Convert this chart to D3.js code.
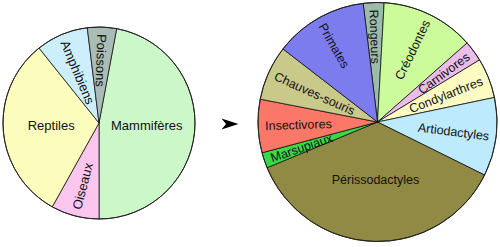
<!DOCTYPE html>
<html><head><meta charset="utf-8">
<script src="https://cdn.jsdelivr.net/npm/d3@7"></script>
<style>body{margin:0;background:#fff}svg{display:block}</style>
</head><body>
<svg id="c" width="500" height="247"></svg>
<script>
const leftCategories = ["Mammifères","Oiseaux","Reptiles","Amphibiens","Poissons"];
const leftValues = [47.1, 8.1, 31.2, 8.8, 4.9];
const leftColors = ["#ccf7c8","#fcc6ee","#fcfcbc","#cdeefd","#a9bcb6"];

const rightCategories = ["Rongeurs","Créodontes","Carnivores","Condylarthres","Artiodactyles","Périssodactyles","Marsupiaux","Insectivores","Chauves-souris","Primates"];
const rightValues = [2.8, 12.6, 2.8, 5.4, 10.6, 36.4, 2.1, 7.2, 7.4, 12.6];
const rightColors = ["#9dbba8","#ccfb9c","#ecbcec","#fcfcc2","#bdeafc","#908a44","#3bd94a","#fb7868","#c9c98a","#7c7cee"];

const svg = d3.select("#c");

function drawPie(cats, vals, colors, cx, cy, r, startDeg, fontSize) {
  const s0 = startDeg * Math.PI / 180;
  const data = cats.map((c, i) => ({c, v: vals[i]}));
  const total = d3.sum(vals);
  const pie = d3.pie().sort(null).value(d => d.v).startAngle(s0).endAngle(s0 + 2 * Math.PI);
  const arcs = pie(data);
  const color = d3.scaleOrdinal().domain(cats).range(colors);
  const arc = d3.arc().innerRadius(0).outerRadius(r);
  const g = svg.append("g").attr("transform", `translate(${cx},${cy})`);
  g.selectAll("path.slice").data(arcs).join("path")
    .attr("class", "slice")
    .attr("d", arc)
    .attr("fill", d => color(d.data.c))
    .attr("stroke", "#000").attr("stroke-width", 0.7).attr("stroke-linejoin", "round");
  g.append("circle").attr("r", r).attr("fill", "none").attr("stroke", "#222").attr("stroke-width", 1);

  arcs.forEach(d => {
    const mid = (d.startAngle + d.endAngle) / 2;
    const ux = Math.sin(mid), uy = -Math.cos(mid);
    const t = g.append("text")
      .attr("font-family", "'Liberation Sans', Arial, sans-serif")
      .attr("font-size", fontSize)
      .attr("fill", "#111")
      .attr("text-anchor", "middle")
      .attr("dy", "0.35em")
      .text(d.data.c);
    if (d.data.v / total > 0.25) {
      t.attr("x", ux * r * 0.5).attr("y", uy * r * 0.5 - 2);
    } else {
      let a = Math.atan2(uy, ux) * 180 / Math.PI;
      if (a <= -85) a += 180;
      if (a > 95) a -= 180;
      const L = t.node().getComputedTextLength();
      const dist = r - 7 - L / 2;
      const x = ux * dist, y = uy * dist;
      t.attr("transform", `translate(${x},${y}) rotate(${a})`);
    }
  });
}

drawPie(leftCategories, leftValues, leftColors, 99, 123, 96, 10.6, 13);
drawPie(rightCategories, rightValues, rightColors, 377.5, 122, 119.5, -6.9, 12.5);

// arrow between pies
const ax = (99 + 96 + 377.5 - 119.5) / 2 + 3, ay = 124;
svg.append("path")
  .attr("transform", `translate(${ax},${ay})`)
  .attr("d", "M9,0 L-8,-5.5 L-3.5,0 L-8,5.5 Z")
  .attr("fill", "#000");
</script>
</body></html>
